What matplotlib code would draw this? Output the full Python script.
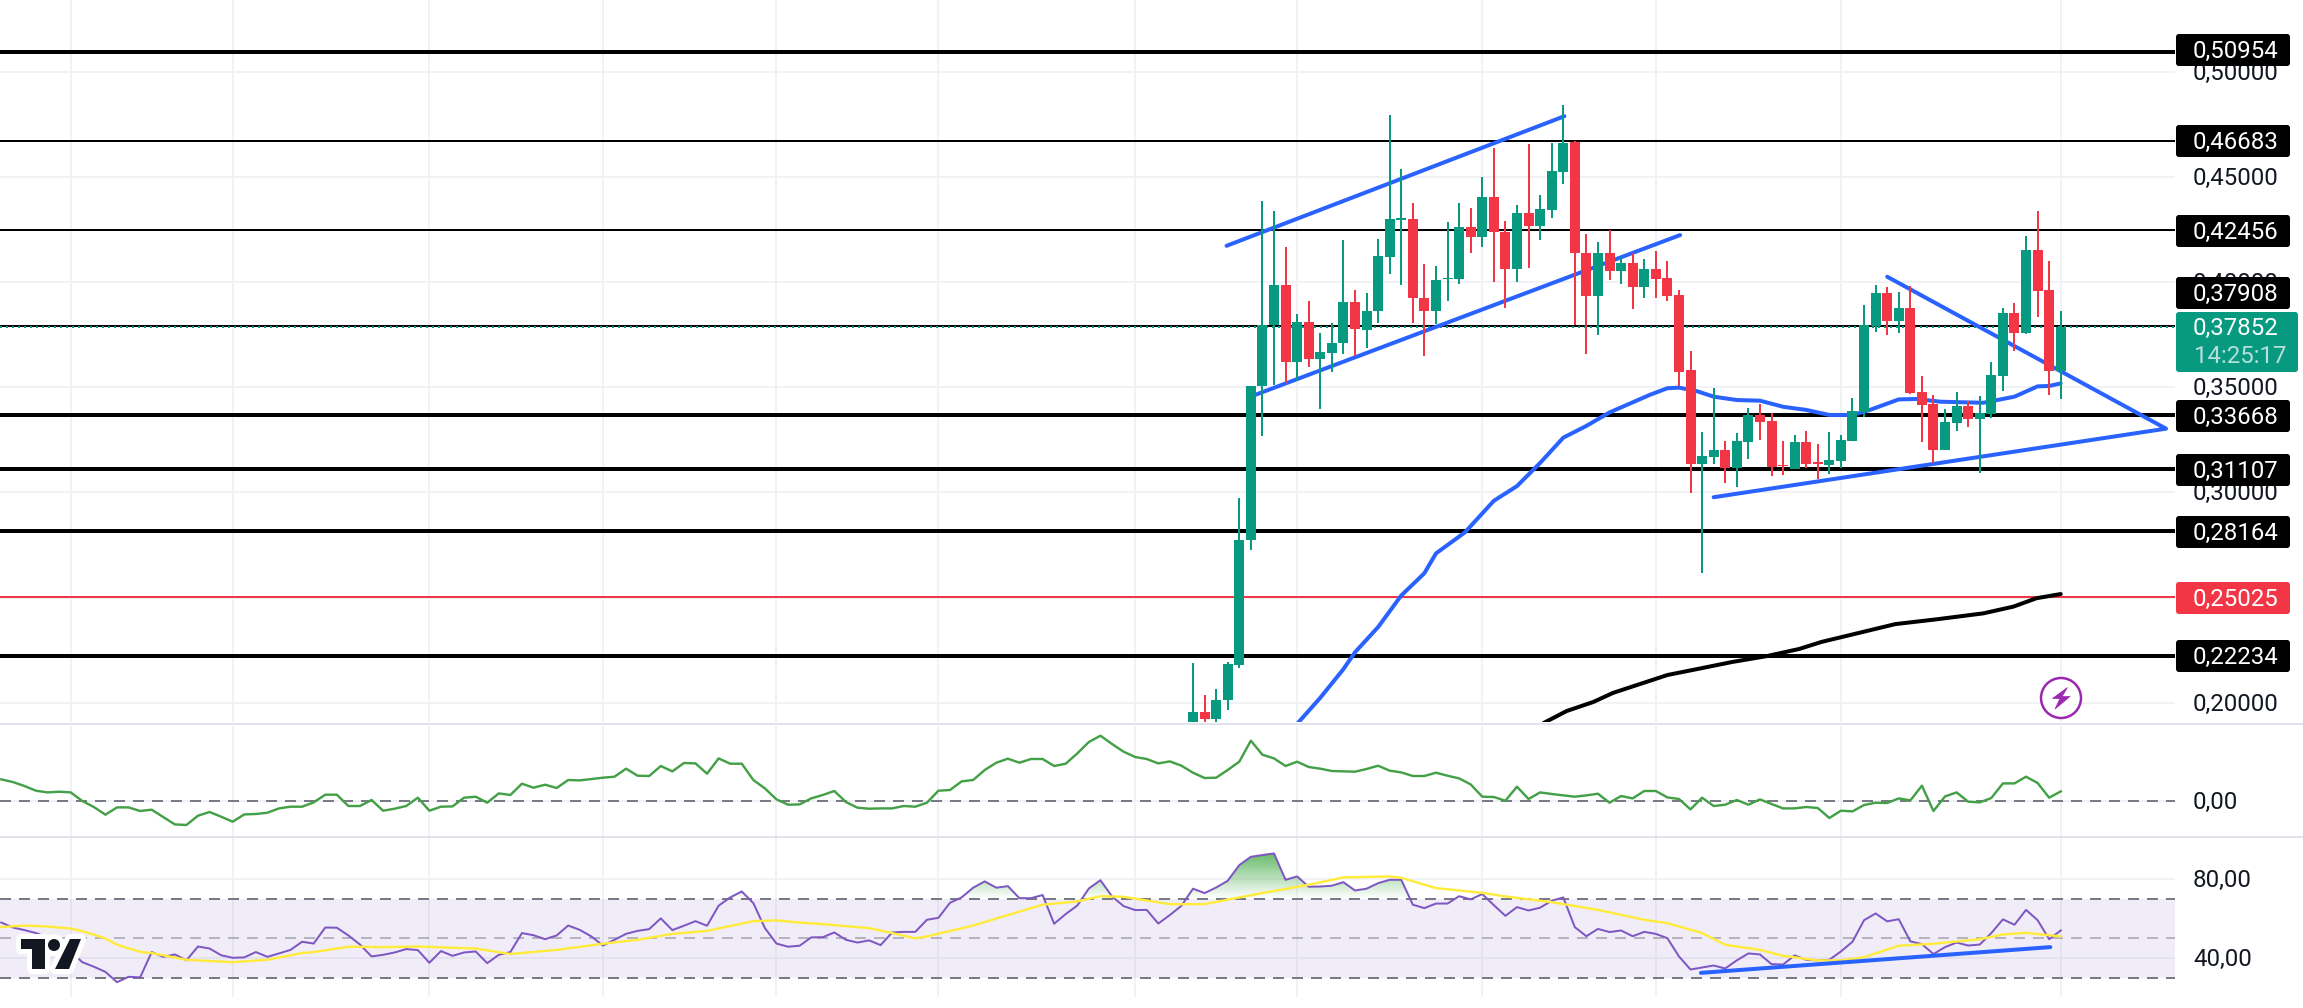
import numpy as np
import matplotlib
matplotlib.use("Agg")
import matplotlib.pyplot as plt
from matplotlib.patches import Polygon, Circle, FancyBboxPatch
from matplotlib.path import Path

plt.rcParams['font.family'] = ['Roboto', 'DejaVu Sans']

W, H = 2303, 1008
PX = 0.72  # one pixel in points at dpi 100

GREEN = '#089981'
RED = '#f23645'
BLUE = '#2962ff'
INK = '#131722'
GRID = '#f1f2f5'
SEP = '#e0e3eb'

# candles, bar 0 is the first one on the picture
opens = [.1860, .1956, .1924, .2012, .2180, .2772, .3508, .3796, .3984, .3622, .3812, .3636, .3664, .3708, .3904, .3774,
         .3860, .4120, .4296, .4300, .3922, .3864, .4014, .4012, .4260, .4212, .4404, .4240, .4060, .4328, .4264, .4344,
         .4524, .4664, .4136, .3934, .4136, .4052, .4090, .3978, .4062, .4017, .3938, .3582, .3135, .3168, .3201, .3116,
         .3240, .3368, .3339, .3130, .3111, .3240, .3143, .3130, .3149, .3244, .3382, .3791, .3948, .3815, .3876, .3477,
         .3420, .3201, .3330, .3411, .3349, .3373, .3553, .3853, .3758, .4152, .3962, .3577]
highs = [.2188, .2036, .2064, .2192, .2972, .3508, .4384, .4336, .4164, .3846, .3912, .3756, .3804, .4200, .3964, .3950,
         .4204, .4796, .4536, .4374, .4084, .4074, .4284, .4374, .4354, .4498, .4636, .4292, .4364, .4654, .4412, .4660,
         .4840, .4672, .4226, .4188, .4248, .4118, .4136, .4108, .4147, .4098, .3962, .3670, .3285, .3495, .3243, .3281,
         .3399, .3420, .3376, .3243, .3271, .3290, .3228, .3285, .3271, .3447, .3889, .3984, .3975, .3952, .3979, .3552,
         .3461, .3395, .3476, .3433, .3457, .3618, .3875, .3899, .4217, .4337, .4098, .3861]
lows = [.1850, .1850, .1850, .1966, .2164, .2724, .3270, .3510, .3520, .3528, .3596, .3398, .3574, .3660, .3646, .3686,
        .3806, .4040, .3984, .3806, .3650, .3800, .3912, .3992, .4140, .4164, .4000, .3878, .4000, .4068, .4198, .4306,
        .4464, .3798, .3656, .3750, .4010, .3990, .3874, .3926, .3925, .3911, .3506, .2999, .2618, .3136, .3046, .3027,
        .3160, .3249, .3078, .3084, .3111, .3116, .3065, .3089, .3116, .3244, .3358, .3762, .3748, .3758, .3468, .3240,
        .3140, .3201, .3292, .3311, .3092, .3352, .3482, .3672, .3753, .3834, .3463, .3444]
closes = [.1956, .1924, .2012, .2186, .2772, .3508, .3796, .3988, .3622, .3812, .3636, .3668, .3710, .3904, .3776, .3862,
          .4124, .4300, .4302, .3922, .3864, .4010, .4018, .4260, .4212, .4404, .4240, .4060, .4328, .4264, .4348, .4528,
          .4662, .4136, .3934, .4136, .4052, .4090, .3978, .4060, .4016, .3935, .3572, .3135, .3173, .3201, .3116, .3244,
          .3368, .3335, .3121, .3124, .3240, .3135, .3136, .3154, .3249, .3387, .3796, .3948, .3815, .3876, .3472, .3415,
          .3201, .3335, .3411, .3349, .3377, .3558, .3853, .3758, .4152, .3957, .3577, .3785]

# support / resistance levels: price, width in px, colour
level_prices = [.50954, .46683, .42456, .37908, .33668, .31107, .28164, .25025, .22234]
level_widths = [4, 2, 2, 2, 4, 4, 4, 2, 4]
level_labels = ['0,50954', '0,46683', '0,42456', '0,37908', '0,33668', '0,31107', '0,28164', '0,25025', '0,22234']
label_centres = [50, 141, 231, 293, 416, 470, 532, 598, 656]
last_price = 0.37852

price_ticks = [.50, .45, .40, .35, .30, .25, .20]
price_tick_labels = ['0,50000', '0,45000', '0,40000', '0,35000', '0,30000', '0,25000', '0,20000']
time_grid = [-97, -83, -66, -51, -36, -22, -5, 9, 25, 40, 56, 75]

# moving averages
ma_blue_x = [9, 11, 13, 14, 16, 18, 20, 21, 23.5, 26, 28, 30, 32, 34, 36, 39.5, 41, 42, 43.5, 45, 47, 49, 51, 53, 55, 57,
             58.5, 61, 62.5, 64.6, 68.3, 71, 73, 74, 75]
ma_blue = [.190, .2024, .216, .224, .236, .251, .2616, .271, .281, .296, .303, .314, .326, .3316, .338, .3464, .3495,
           .3498, .3482, .3455, .3439, .3436, .3407, .3392, .3368, .3368, .3392, .3442, .3444, .3431, .3426, .3455,
           .3504, .3506, .3518]
ma_black_x = [30.3, 32.3, 34.6, 36.3, 41, 44, 46.6, 49.6, 52.4, 54.3, 60.7, 64.3, 68.3, 70.9, 72.9, 75]
ma_black = [.1904, .1961, .2004, .2047, .2132, .2165, .2194, .2222, .2256, .2289, .2374, .2397, .2425, .2457, .2497, .2517]

# drawn trend lines, (bar, price) pairs
trend_upper_x, trend_upper = [2.9, 32.1], [.4172, .4788]
trend_lower_x, trend_lower = [5.4, 42.1], [.3464, .4223]
wedge_x, wedge = [60.0, 84.1, 45.0], [.4025, .3303, .2977]

# momentum pane, one value per bar from bar -103 on
momentum = [21.3, 18.7, 14.7, 10, 8.3, 9, 8.3, -0.3, -6.3, -14, -6.7, -6.7, -10.3, -9, -16.3, -23.7, -24.3, -15, -11.3, -16,
            -21, -13.7, -13.3, -12, -7.7, -6, -6, -1.7, 6, 6, -5.3, -5.3, 0.7, -10, -8, -5.3, 3, -10, -6, -5.7,
            3, 4, -2, 7.3, 5.7, 17, 13, 16, 12.7, 20.7, 20.3, 21.7, 23, 24, 32, 25, 24.7, 34.7, 29.3, 37.7,
            37.3, 27, 42.3, 37, 37, 20.7, 12.3, 1.3, -4, -3.7,
            2.3, 5.7, 9.7, -1.3, -7, -8, -7.7, -7.7, -5.3, -6, -2, 10, 10.7, 19.3, 20.7, 30.7, 38, 42, 38, 41.7,
            41.7, 34.7, 37, 47.3, 58.7, 65, 56.7, 49, 43.7, 41.7, 37.3, 39.3, 35, 28, 22.7, 23, 30.7, 39, 60, 46,
            42.3, 34.7, 39, 33.7, 32, 29.7, 29.3, 29, 31.7, 35, 30, 28.3, 24.7, 24.7, 28, 25, 22.3, 16.3, 4, 3.7,
            0, 14, 1.7, 8.3, 6.7, 5.3, 4, 5.3, 7,
            -2, 4.7, 2.3, 9.7, 9.7, 3.3, 1.7, -8.7, 3, -5.3, -4, 0.7, -4, 1.3, -3.3, -7.7, -7.7, -6.3, -7.3, -17.3,
            -10, -10.7, -4.3, -2, -2.3, 2.3, 0.3, 15, -10.3, 4.3, 8.3, -1, -1.7, 2.7, 17.3, 17.3, 24, 17.7, 3, 9.3]

# RSI pane, one value per bar from bar -103 on
rsi = [58.0, 55.5, 54.2, 52.7, 50.6, 47.6, 43.4, 38.0, 35.7, 33.1, 27.9, 30.6, 30.3, 43.1, 40.7, 41.9, 38.9, 45.9, 44.9, 41.5,
       40.2, 40.4, 43.1, 40.7, 42.4, 44.2, 48.3, 47.4, 55.5, 55.4, 51.5, 46.9, 40.9, 41.7, 42.9, 44.6, 44.1, 37.7, 43.6, 41.2,
       42.9, 43.4, 37.5, 41.7, 43.1, 52.7, 51.6, 49.6, 51.5, 56.5, 54.3, 51.0, 46.4, 49.3, 52.3, 53.8, 54.7, 60.1, 54.2, 56.4,
       58.7, 56.4, 66.5, 70.7, 73.7, 67.8, 55.2, 47.4, 45.8, 46.3,
       50.5, 50.6, 53.0, 49.3, 47.9, 49.0, 46.6, 53.0, 53.3, 53.3, 59.4, 60.4, 68.0, 70.7, 75.6, 78.8, 75.6, 76.4, 70.3, 70.3,
       71.9, 57.4, 62.3, 66.6, 75.2, 79.4, 71.2, 66.3, 64.3, 64.4, 57.5, 61.8, 66.5, 75.1, 72.9, 75.7, 79.1, 87.0, 91.2, 92.1,
       92.9, 79.6, 81.3, 76.1, 76.2, 76.6, 78.4, 74.2, 75.1, 77.9, 79.6, 79.6, 67.0, 65.3, 67.6, 67.6, 71.3, 69.7, 72.4, 66.8,
       61.4, 65.8, 64.1, 65.5, 69.0, 70.7, 55.7, 51.1, 54.8,
       53.2, 54.0, 51.1, 53.3, 52.3, 50.1, 40.9, 34.3, 35.3, 36.3, 34.8, 38.9, 42.4, 41.9, 37.0, 36.8, 41.4, 39.2, 38.9, 39.2,
       43.4, 48.3, 59.2, 62.6, 58.6, 59.7, 48.5, 47.1, 42.1, 45.6, 47.9, 46.4, 46.9, 52.7, 59.6, 56.9, 64.4, 59.2, 49.6, 54.0]

rsi_ma_x = [-103, -101, -99, -97, -96, -94, -93, -91, -90, -87, -83, -80, -77, -76, -73, -70, -67, -62, -59, -55, -51, -48,
            -45, -42, -38, -36, -34, -32, -28, -26, -24, -23, -19, -16, -13, -10, -8, -6, -2, 1, 4, 6, 10, 13, 17, 18, 21,
            25, 27, 31, 35, 39, 41, 44, 46, 49, 51, 54, 56, 58, 61, 64, 68, 70, 72, 75]
rsi_ma = [55.7, 56.5, 56.0, 55.0, 53.7, 50.0, 46.8, 43.2, 42.6, 39.2, 38.0, 39.2, 42.6, 43.1, 45.8, 45.6, 45.9, 44.9, 42.1,
          44.2, 47.3, 49.3, 52.3, 53.8, 58.7, 59.1, 58.0, 57.2, 55.2, 52.7, 50.0, 51.0, 56.5, 61.8, 67.0, 68.7, 71.3, 71.0,
          67.3, 67.3, 70.7, 72.9, 77.1, 80.8, 81.3, 80.6, 75.4, 73.0, 71.2, 68.3, 64.4, 59.4, 57.7, 52.7, 46.8, 44.2, 41.2,
          38.9, 38.9, 40.5, 46.3, 47.3, 49.6, 52.0, 52.8, 51.0]
rsi_trend_x, rsi_trend = [43.9, 74.1], [32.6, 45.6]

opens, highs, lows, closes = map(np.array, (opens, highs, lows, closes))
bars = np.arange(len(opens))
rsi = np.array(rsi)
momentum = np.array(momentum)
pane_bars = np.arange(-103, -103 + len(rsi))

BAR_PX = 11.57
BAR0_PX = 1193
PLOT_R = 2175
xlim = (-BAR0_PX / BAR_PX, (PLOT_R - BAR0_PX) / BAR_PX)

fig = plt.figure(figsize=(W / 100, H / 100), dpi=100, facecolor='white')


def pane(top, bottom, ylim):
    ax = fig.add_axes([0, 1 - bottom / H, PLOT_R / W, (bottom - top) / H])
    ax.set_xlim(xlim)
    ax.set_ylim(ylim)
    ax.axis('off')
    ax.patch.set_visible(False)
    for b in time_grid:
        ax.axvline(b, color=GRID, lw=2 * PX, zorder=0)
    return ax


def tick_text(ax, value, label):
    ax.annotate(label, xy=(1, value), xycoords=ax.get_yaxis_transform(), xytext=(18 * PX, 1 * PX),
                textcoords='offset points', va='center_baseline', ha='left', fontsize=17.3, color=INK, annotation_clip=False)


# main pane
ax = pane(0, 722, (.45 - (722 - 176.8) / 2104, .45 + 176.8 / 2104))
for p, lab in zip(price_ticks, price_tick_labels):
    ax.axhline(p, color=GRID, lw=2 * PX, zorder=0)
    tick_text(ax, p, lab)
for p, w, in zip(level_prices, level_widths):
    ax.axhline(p, color=RED if p == .25025 else 'black', lw=w * PX, zorder=1)
ax.axhline(last_price, color=GREEN, lw=2 * PX, ls=(0, (1, 2)), zorder=1.5)

line_kw = dict(color=BLUE, lw=4 * PX, solid_capstyle='round', zorder=2)
ax.plot(trend_upper_x, trend_upper, **line_kw)
ax.plot(trend_lower_x, trend_lower, **line_kw)
ax.plot(wedge_x, wedge, solid_joinstyle='round', **line_kw)
ax.plot(ma_blue_x, ma_blue, **line_kw)
ax.plot(ma_black_x, ma_black, color='black', lw=4 * PX, solid_capstyle='round', zorder=2)

colors = np.where(closes >= opens, GREEN, RED)
ax.vlines(bars, lows, highs, colors=colors, lw=2 * PX, zorder=3)
ax.bar(bars, np.abs(closes - opens), bottom=np.minimum(opens, closes), width=10 / BAR_PX, color=colors, linewidth=0, zorder=3)

# momentum pane
ax2 = pane(726, 836, (-35.3, 74.7))
ax2.axhline(0, color=GRID, lw=2 * PX, zorder=0)
ax2.axhline(0, color='#787b86', lw=2 * PX, ls=(0, (5.5, 4)), zorder=1)
ax2.plot(pane_bars, momentum, color='#43a047', lw=2.4 * PX, zorder=2)
tick_text(ax2, 0, '0,00')

# RSI pane
ax3 = pane(838, 997, (30 - 19 / 1.98, 30 + 140 / 1.98))
ax3.axhspan(30, 70, color='#7e57c2', alpha=0.1, linewidth=0, zorder=0.5)
for v in (80, 40):
    ax3.axhline(v, color=GRID, lw=2 * PX, zorder=0)
ax3.axhline(70, color='#787b86', lw=2 * PX, ls=(0, (5.5, 4)), zorder=1)
ax3.axhline(30, color='#787b86', lw=2 * PX, ls=(0, (5.5, 4)), zorder=1)
ax3.axhline(50, color='#787b86', lw=2 * PX, alpha=0.5, ls=(0, (5.5, 4)), zorder=1)

# overbought area, green fading towards the 70 line
over = ax3.fill_between(pane_bars, 70, rsi, where=rsi > 70, interpolate=True, facecolor='none', linewidth=0)
shade = np.zeros((64, 1, 4))
shade[..., 0], shade[..., 1], shade[..., 2] = 0.30, 0.69, 0.31
shade[..., 3] = np.linspace(0.85, 0.0, 64)[:, None]
im = ax3.imshow(shade, extent=(xlim[0], xlim[1], 70, 93), aspect='auto', zorder=1.5)
im.set_clip_path(Path.make_compound_path(*over.get_paths()), transform=ax3.transData)
ax3.set_xlim(xlim)
ax3.set_ylim(30 - 19 / 1.98, 30 + 140 / 1.98)

ax3.plot(pane_bars, rsi, color='#7e57c2', lw=2 * PX, zorder=2)
ax3.plot(rsi_ma_x, rsi_ma, color='#ffeb3b', lw=2.4 * PX, zorder=2.5)
ax3.plot(rsi_trend_x, rsi_trend, color=BLUE, lw=4 * PX, solid_capstyle='round', zorder=3)
tick_text(ax3, 80, '80,00')
tick_text(ax3, 40, '40,00')

# overlay in picture pixels for separators, price tags and icons
top = fig.add_axes([0, 0, 1, 1], zorder=10)
top.set_xlim(0, W)
top.set_ylim(H, 0)
top.axis('off')
top.patch.set_visible(False)
for y in (724, 837):
    top.plot([0, W], [y, y], color=SEP, lw=2 * PX, zorder=1)


def tag(y0, y1, x1, color):
    top.add_patch(FancyBboxPatch((2177, y0 + 2), x1 - 2177, y1 - y0 - 4, boxstyle='round,pad=0,rounding_size=2',
                                 facecolor=color, edgecolor=color, lw=2 * PX, zorder=2))


for p, lab, yc in zip(level_prices, level_labels, label_centres):
    tag(yc - 17, yc + 17, 2289, RED if p == .25025 else 'black')
    top.text(2193, yc - 1, lab, color='white', fontsize=17.3, va='center_baseline', ha='left', zorder=3)

tag(311, 373, 2297, GREEN)
top.text(2193, 326, '0,37852', color='white', fontsize=17.3, va='center_baseline', ha='left', zorder=3)
top.text(2194, 354, '14:25:17', color='#b5e0d9', fontsize=17.3, va='center_baseline', ha='left', zorder=3)

# lightning badge
purple = '#9c27b0'
top.add_patch(Circle((2061, 698), 20, facecolor='white', edgecolor=purple, lw=2.5 * PX, zorder=2))
top.add_patch(Polygon([(2067.5, 687.5), (2052.5, 698.5), (2060, 698.5), (2055, 709), (2070, 696.5), (2062, 696.5)],
                      closed=True, facecolor=purple, edgecolor=purple, lw=0.5, zorder=3))

# TradingView mark
logo = [
    Polygon([(21, 939), (45, 939), (45, 969), (32, 969), (32, 949), (21, 949)], closed=True),
    Polygon([(70, 939), (81, 939), (69, 969), (55, 969)], closed=True),
    Circle((54, 945), 6),
]
for shape in logo:
    shape.set(facecolor='white', edgecolor='white', lw=10 * PX, zorder=4, joinstyle='round')
    top.add_patch(shape)
for shape in [Polygon(s.get_xy(), closed=True) for s in logo[:2]] + [Circle((54, 945), 6)]:
    shape.set(facecolor=INK, edgecolor='none', zorder=5)
    top.add_patch(shape)

fig.savefig('out.png', dpi=100)
